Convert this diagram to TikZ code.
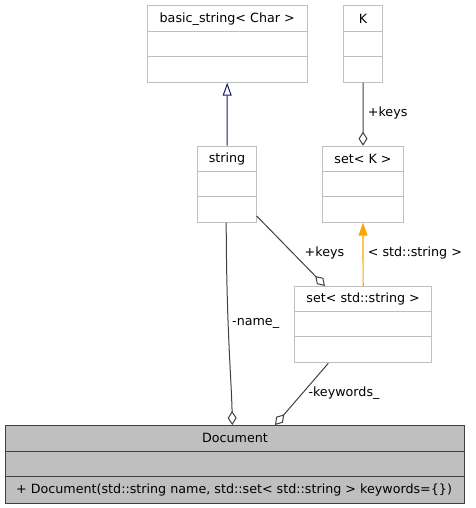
\documentclass[tikz,border=0pt]{standalone}
\usepackage{fontspec}
\setmainfont{DejaVu Sans}
\usetikzlibrary{arrows.meta}
\definecolor{boxgray}{HTML}{BFBFBF}
\definecolor{edgegray}{HTML}{404040}
\definecolor{inhblue}{HTML}{191970}
\definecolor{tmplorange}{HTML}{FFA500}
\tikzset{
  cls/.style={draw=boxgray, fill=white, line width=1pt, inner sep=0pt, anchor=north west},
  maincls/.style={draw=edgegray, fill=boxgray, line width=1pt, inner sep=0pt, anchor=north west},
  divline/.style={draw=boxgray, line width=1pt},
  maindiv/.style={draw=edgegray, line width=1pt},
  title/.style={font=\fontsize{12.7}{15}\selectfont, inner sep=0pt},
  lbl/.style={font=\fontsize{12.7}{15}\selectfont, inner sep=0pt},
  agg/.style={draw=edgegray, line width=1pt, -{Diamond[open, length=14pt, width=9pt, line width=1pt]}},
  inh/.style={draw=inhblue, line width=1pt, -{Triangle[open, length=13pt, width=9pt, line width=1pt]}},
  tmpl/.style={draw=tmplorange, line width=1.2pt, -{Triangle[length=13pt, width=9pt]}}
}
\begin{document}
\begin{tikzpicture}[x=1pt, y=-1pt]
\useasboundingbox (0,0) rectangle (475,508);
% basic_string
\node[cls, minimum width=160pt, minimum height=76.4pt] (bs) at (146.7,5.3) {};
\draw[divline] ([yshift=-26.4pt]bs.north west) -- ([yshift=-26.4pt]bs.north east);
\draw[divline] ([yshift=-51.4pt]bs.north west) -- ([yshift=-51.4pt]bs.north east);
\node[title] (bst) at ([yshift=-13.4pt]bs.north) {basic\_string< Char >};
% K
\node[cls, minimum width=38.7pt, minimum height=76.4pt] (k) at (343.3,5.3) {};
\draw[divline] ([yshift=-26.4pt]k.north west) -- ([yshift=-26.4pt]k.north east);
\draw[divline] ([yshift=-51.4pt]k.north west) -- ([yshift=-51.4pt]k.north east);
\node[title] (kt) at ([yshift=-13.4pt]k.north) {K};
% string
\node[cls, minimum width=58.4pt, minimum height=76pt] (str) at (197.3,145.7) {};
\draw[divline] ([yshift=-26pt]str.north west) -- ([yshift=-26pt]str.north east);
\draw[divline] ([yshift=-51pt]str.north west) -- ([yshift=-51pt]str.north east);
\node[title] (strt) at ([yshift=-13pt]str.north) {string};
% set<K>
\node[cls, minimum width=81.6pt, minimum height=76pt] (setk) at (321.7,145.7) {};
\draw[divline] ([yshift=-26pt]setk.north west) -- ([yshift=-26pt]setk.north east);
\draw[divline] ([yshift=-51pt]setk.north west) -- ([yshift=-51pt]setk.north east);
\node[title] (setkt) at ([yshift=-13pt]setk.north) {set< K >};
% set<std::string>
\node[cls, minimum width=137.3pt, minimum height=76.3pt] (sets) at (294,286) {};
\draw[divline] ([yshift=-25pt]sets.north west) -- ([yshift=-25pt]sets.north east);
\draw[divline] ([yshift=-50.7pt]sets.north west) -- ([yshift=-50.7pt]sets.north east);
\node[title] (setst) at ([yshift=-12.5pt]sets.north) {set< std::string >};
% Document
\node[maincls, minimum width=459.6pt, minimum height=78.3pt] (doc) at (4.7,425) {};
\draw[maindiv] ([yshift=-26.7pt]doc.north west) -- ([yshift=-26.7pt]doc.north east);
\draw[maindiv] ([yshift=-51.7pt]doc.north west) -- ([yshift=-51.7pt]doc.north east);
\node[title] (doct) at ([yshift=-13pt]doc.north) {Document};
\node[title, anchor=west] (docm) at ([xshift=11.3pt, yshift=-65pt]doc.north west) {+ Document(std::string name, std::set< std::string > keywords=\{\})};
% edges
\draw[inh] (str.north) -- (bs.south);
\draw[agg] (k.south) -- (setk.north);
\node[lbl, anchor=west] (l1) at (367.7,112.7) {+keys};
\draw[tmpl] (sets.north) -- (setk.south);
\node[lbl, anchor=west] (l2) at (367.7,252.7) {< std::string >};
\coordinate (s1) at ([yshift=6.7pt]str.south east);
\draw[agg] (s1) -- ([xshift=31pt]sets.north west);
\node[lbl, anchor=west] (l3) at (304.5,252.7) {+keys};
\coordinate (s2) at ([xshift=-0.8pt]str.south);
\draw[agg] (s2) .. controls (226.5,330) and (231.5,380) .. ([xshift=227.6pt]doc.north west);
\node[lbl, anchor=west] (l4) at (232,323.3) {-name\_};
\coordinate (s3) at ([xshift=34.3pt]sets.south west);
\draw[agg] (s3) -- ([xshift=270.3pt]doc.north west);
\node[lbl, anchor=west] (l5) at (308.3,392.7) {-keywords\_};
\end{tikzpicture}
\end{document}
